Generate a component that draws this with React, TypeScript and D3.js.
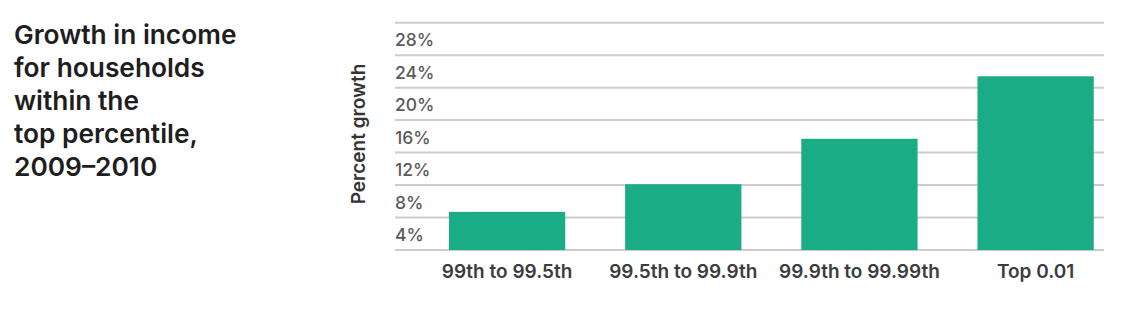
import React from "react";
import * as d3 from "d3";

const categories = ["99th to 99.5th", "99.5th to 99.9th", "99.9th to 99.99th", "Top 0.01"];
const growth = [4.7, 8.1, 13.7, 21.4];
const tickValues = [4, 8, 12, 16, 20, 24, 28];
const gridValues = [0, 4, 8, 12, 16, 20, 24, 28];
const titleLines = ["Growth in income", "for households", "within the", "top percentile,", "2009–2010"];

const W = 1128;
const H = 316;
const FONT = "Inter, 'Liberation Sans', Arial, sans-serif";

export default function App() {
  const y = d3.scaleLinear().domain([0, 28]).range([250, 22.7]);
  const x = d3
    .scaleBand<string>()
    .domain(categories)
    .range([419, 1123.7])
    .paddingInner(0.34)
    .paddingOuter(0.17);
  const gridX0 = 395;
  const gridX1 = 1104;

  return (
    <svg
      width={W}
      height={H}
      style={{ position: "absolute", left: 0, top: 0, background: "#fff" }}
      fontFamily={FONT}
    >
      <g>
        {titleLines.map((t, i) => (
          <text
            key={i}
            x={14}
            y={43.5 + i * 33}
            fontSize={26.3}
            fontWeight={600}
            fill="#1e1e1e"
          >
            {t}
          </text>
        ))}
      </g>

      <g>
        {gridValues.map((v) => (
          <line
            key={v}
            x1={gridX0}
            x2={gridX1}
            y1={y(v)}
            y2={y(v)}
            stroke="#cccccc"
            strokeWidth={2}
          />
        ))}
      </g>

      <g>
        {tickValues.map((v) => (
          <text key={v} x={gridX0} y={y(v) + 23.5} fontSize={17.5} fontWeight={500} fill="#5a5a5a">
            {v}%
          </text>
        ))}
      </g>

      <text
        transform="translate(365,134) rotate(-90)"
        textAnchor="middle"
        fontSize={19}
        fontWeight={600}
        fill="#333"
      >
        Percent growth
      </text>

      <g>
        {categories.map((c, i) => (
          <rect
            key={c}
            x={x(c)}
            y={y(growth[i])}
            width={x.bandwidth()}
            height={y(0) - y(growth[i])}
            fill="#1aab87"
          />
        ))}
      </g>

      <g>
        {categories.map((c) => (
          <text
            key={c}
            x={(x(c) ?? 0) + x.bandwidth() / 2}
            y={277.5}
            textAnchor="middle"
            fontSize={19}
            fontWeight={600}
            fill="#3c3c3c"
          >
            {c}
          </text>
        ))}
      </g>
    </svg>
  );
}
